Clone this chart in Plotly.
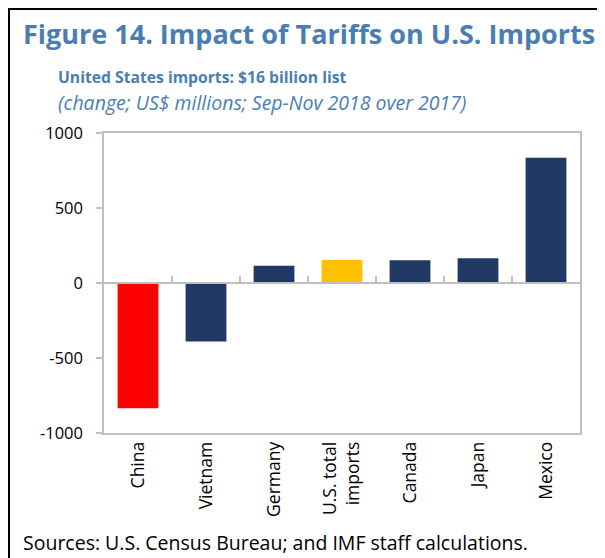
import plotly.graph_objects as go

categories = ["China", "Vietnam", "Germany", "U.S. total<br>imports", "Canada", "Japan", "Mexico"]
values = [-835, -390, 115, 153, 151, 165, 835]
colors = ["#FF0000", "#203864", "#203864", "#FFC000", "#203864", "#203864", "#203864"]
y_ticks = [-1000, -500, 0, 500, 1000]
y_ticktext = ["-1000", "-500", "0", "500", "1000"]

# page body has an 8px margin; work in reference-pixel coordinates and shift
OFF = 8
W, H = 605 - OFF, 558 - OFF
L, R, T, B = 104 - OFF, 25, 133 - OFF, 125
pw = W - L - R
ph = H - T - B

def px(x):
    return (x - OFF - L) / pw

def py(y):
    return (H - B - (y - OFF)) / ph

blue = "#4A7EB3"
fig = go.Figure()
fig.add_trace(go.Bar(x=categories, y=values, marker=dict(color=colors, line=dict(width=0)),
                     width=0.6, showlegend=False, hoverinfo="x+y"))
fig.add_trace(go.Bar(x=categories, y=[None]*len(categories), xaxis="x2", showlegend=False,
                     hoverinfo="skip"))

fig.update_layout(
    width=W, height=H,
    margin=dict(l=L, r=R, t=T, b=B),
    paper_bgcolor="white", plot_bgcolor="white",
    font=dict(family="Open Sans, Noto Sans, sans-serif", color="black"),
    xaxis=dict(showline=True, linecolor="#BFBFBF", linewidth=1.5, mirror=True,
               ticks="", showgrid=False, tickangle=-90,
               tickfont=dict(size=17.5, family="Open Sans"), ticklabelstandoff=0),
    xaxis2=dict(overlaying="x", matches="x", anchor="free", position=py(283),
                showline=True, linecolor="#BFBFBF", linewidth=1.5,
                ticks="inside", ticklen=6, tickcolor="#BFBFBF", tickwidth=1.5,
                tickson="boundaries", showticklabels=False, showgrid=False),
    yaxis=dict(range=[-1000, 1000], tickvals=y_ticks, ticktext=y_ticktext, showline=True,
               linecolor="#BFBFBF", linewidth=1.5, mirror=True, ticks="outside", ticklen=6,
               tickcolor="#BFBFBF", tickwidth=1.5, showgrid=False, zeroline=False,
               tickfont=dict(size=16.5, family="Open Sans"), ticklabelstandoff=10),
    bargap=0.4,
)

ann = [
    dict(text="<b>Figure 14. Impact of Tariffs on U.S. Imports</b>", x=px(21), y=py(34),
         font=dict(size=27, color=blue, family="Open Sans")),
    dict(text="<b>United States imports: $16 billion list</b>", x=px(56), y=py(77),
         font=dict(size=15.7, color=blue, family="Open Sans")),
    dict(text="<i>(change; US$ millions; Sep-Nov 2018 over 2017)</i>", x=px(56), y=py(103),
         font=dict(size=19.5, color=blue, family="Open Sans")),
    dict(text="Sources: U.S. Census Bureau; and IMF staff calculations.", x=px(21), y=py(542),
         font=dict(size=19.5, color="black", family="Open Sans")),
]
for a in ann:
    fig.add_annotation(xref="paper", yref="paper", xanchor="left", yanchor="middle",
                       showarrow=False, **a)

fig.add_shape(type="rect", xref="paper", yref="paper", x0=px(9), x1=px(602), y0=py(575), y1=py(9),
              line=dict(color="black", width=2), layer="above")

fig.write_html("out.html")
